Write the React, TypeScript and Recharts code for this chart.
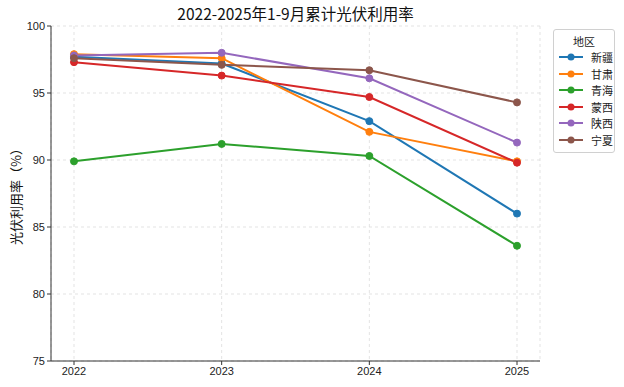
import { CartesianGrid, Legend, Line, LineChart, XAxis, YAxis } from 'recharts'

const years = ['2022', '2023', '2024', '2025']
const xinjiang = [97.7, 97.2, 92.9, 86.0]
const gansu = [97.9, 97.6, 92.1, 89.9]
const qinghai = [89.9, 91.2, 90.3, 83.6]
const mengxi = [97.3, 96.3, 94.7, 89.8]
const shaanxi = [97.8, 98.0, 96.1, 91.3]
const ningxia = [97.6, 97.1, 96.7, 94.3]
const yTicks = [75, 80, 85, 90, 95, 100]

const series = [
  { key: '新疆', values: xinjiang, color: '#1f77b4' },
  { key: '甘肃', values: gansu, color: '#ff7f0e' },
  { key: '青海', values: qinghai, color: '#2ca02c' },
  { key: '蒙西', values: mengxi, color: '#d62728' },
  { key: '陕西', values: shaanxi, color: '#9467bd' },
  { key: '宁夏', values: ningxia, color: '#8c564b' },
]

const data = years.map((year, i) => {
  const row: Record<string, string | number> = { year }
  series.forEach((s) => { row[s.key] = s.values[i] })
  return row
})

const FONT = '"Noto Sans CJK SC", "Noto Sans", sans-serif'
const AXIS = { fill: '#222', fontSize: 11, fontFamily: '"Liberation Sans", Arial, sans-serif' }
const GRID = '#dcdcdc'

function LegendBox() {
  return (
    <div style={{
      width: 62, border: '1px solid #d0d0d0', borderRadius: 3, background: '#fff',
      fontFamily: FONT, fontSize: 11, color: '#222', padding: '3px 0 4px', boxSizing: 'border-box',
    }}>
      <div style={{ textAlign: 'center', lineHeight: '16px' }}>地区</div>
      {series.map((s) => (
        <div key={s.key} style={{ display: 'flex', alignItems: 'center', height: 16.5 }}>
          <svg width={30} height={10} style={{ marginLeft: 4 }}>
            <line x1={1} y1={5} x2={25} y2={5} stroke={s.color} strokeWidth={2} />
            <circle cx={13} cy={5} r={3.5} fill={s.color} />
          </svg>
          <span style={{ marginLeft: 3 }}>{s.key}</span>
        </div>
      ))}
    </div>
  )
}

export default function App() {
  return (
    <div style={{ position: 'fixed', left: 0, top: 0, width: 624, height: 387, background: '#fff' }}>
      <div style={{
        position: 'absolute', top: 2, left: 51, width: 489, textAlign: 'center',
        fontFamily: FONT, fontSize: 15.5, color: '#111',
      }}>
        2022-2025年1-9月累计光伏利用率
      </div>
      <LineChart width={624} height={387} data={data} margin={{ top: 26, right: 84, bottom: 0, left: 0 }}>
        <CartesianGrid stroke={GRID} strokeWidth={0.8} strokeDasharray="3 3" />
        <XAxis
          dataKey="year" tick={AXIS} height={26} padding={{ left: 23, right: 23 }}
          axisLine={{ stroke: '#333' }} tickLine={{ stroke: '#333' }} tickSize={4}
        />
        <XAxis xAxisId="top" orientation="top" dataKey="year" height={0} tick={false} tickLine={false} axisLine={{ stroke: '#333' }} />
        <YAxis
          domain={[75, 100]} ticks={yTicks} tick={AXIS} width={51}
          axisLine={{ stroke: '#333' }} tickLine={{ stroke: '#333' }} tickSize={4}
          label={{ value: '光伏利用率（%）', angle: -90, position: 'insideLeft', offset: 16, style: { fontFamily: FONT, fontSize: 13, fill: '#111', textAnchor: 'middle' } }}
        />
        <YAxis yAxisId="right" orientation="right" domain={[75, 100]} width={0} tick={false} tickLine={false} axisLine={{ stroke: '#333' }} />
        <Legend
          layout="vertical" align="center" verticalAlign="middle"
          wrapperStyle={{ left: 553, top: 29, width: 62 }}
          content={() => <LegendBox />}
        />
        {series.map((s) => (
          <Line
            key={s.key}
            dataKey={s.key}
            stroke={s.color}
            strokeWidth={2}
            dot={{ r: 3.5, fill: s.color, stroke: s.color, strokeWidth: 1 }}
            activeDot={false}
            isAnimationActive={false}
          />
        ))}
      </LineChart>
    </div>
  )
}
